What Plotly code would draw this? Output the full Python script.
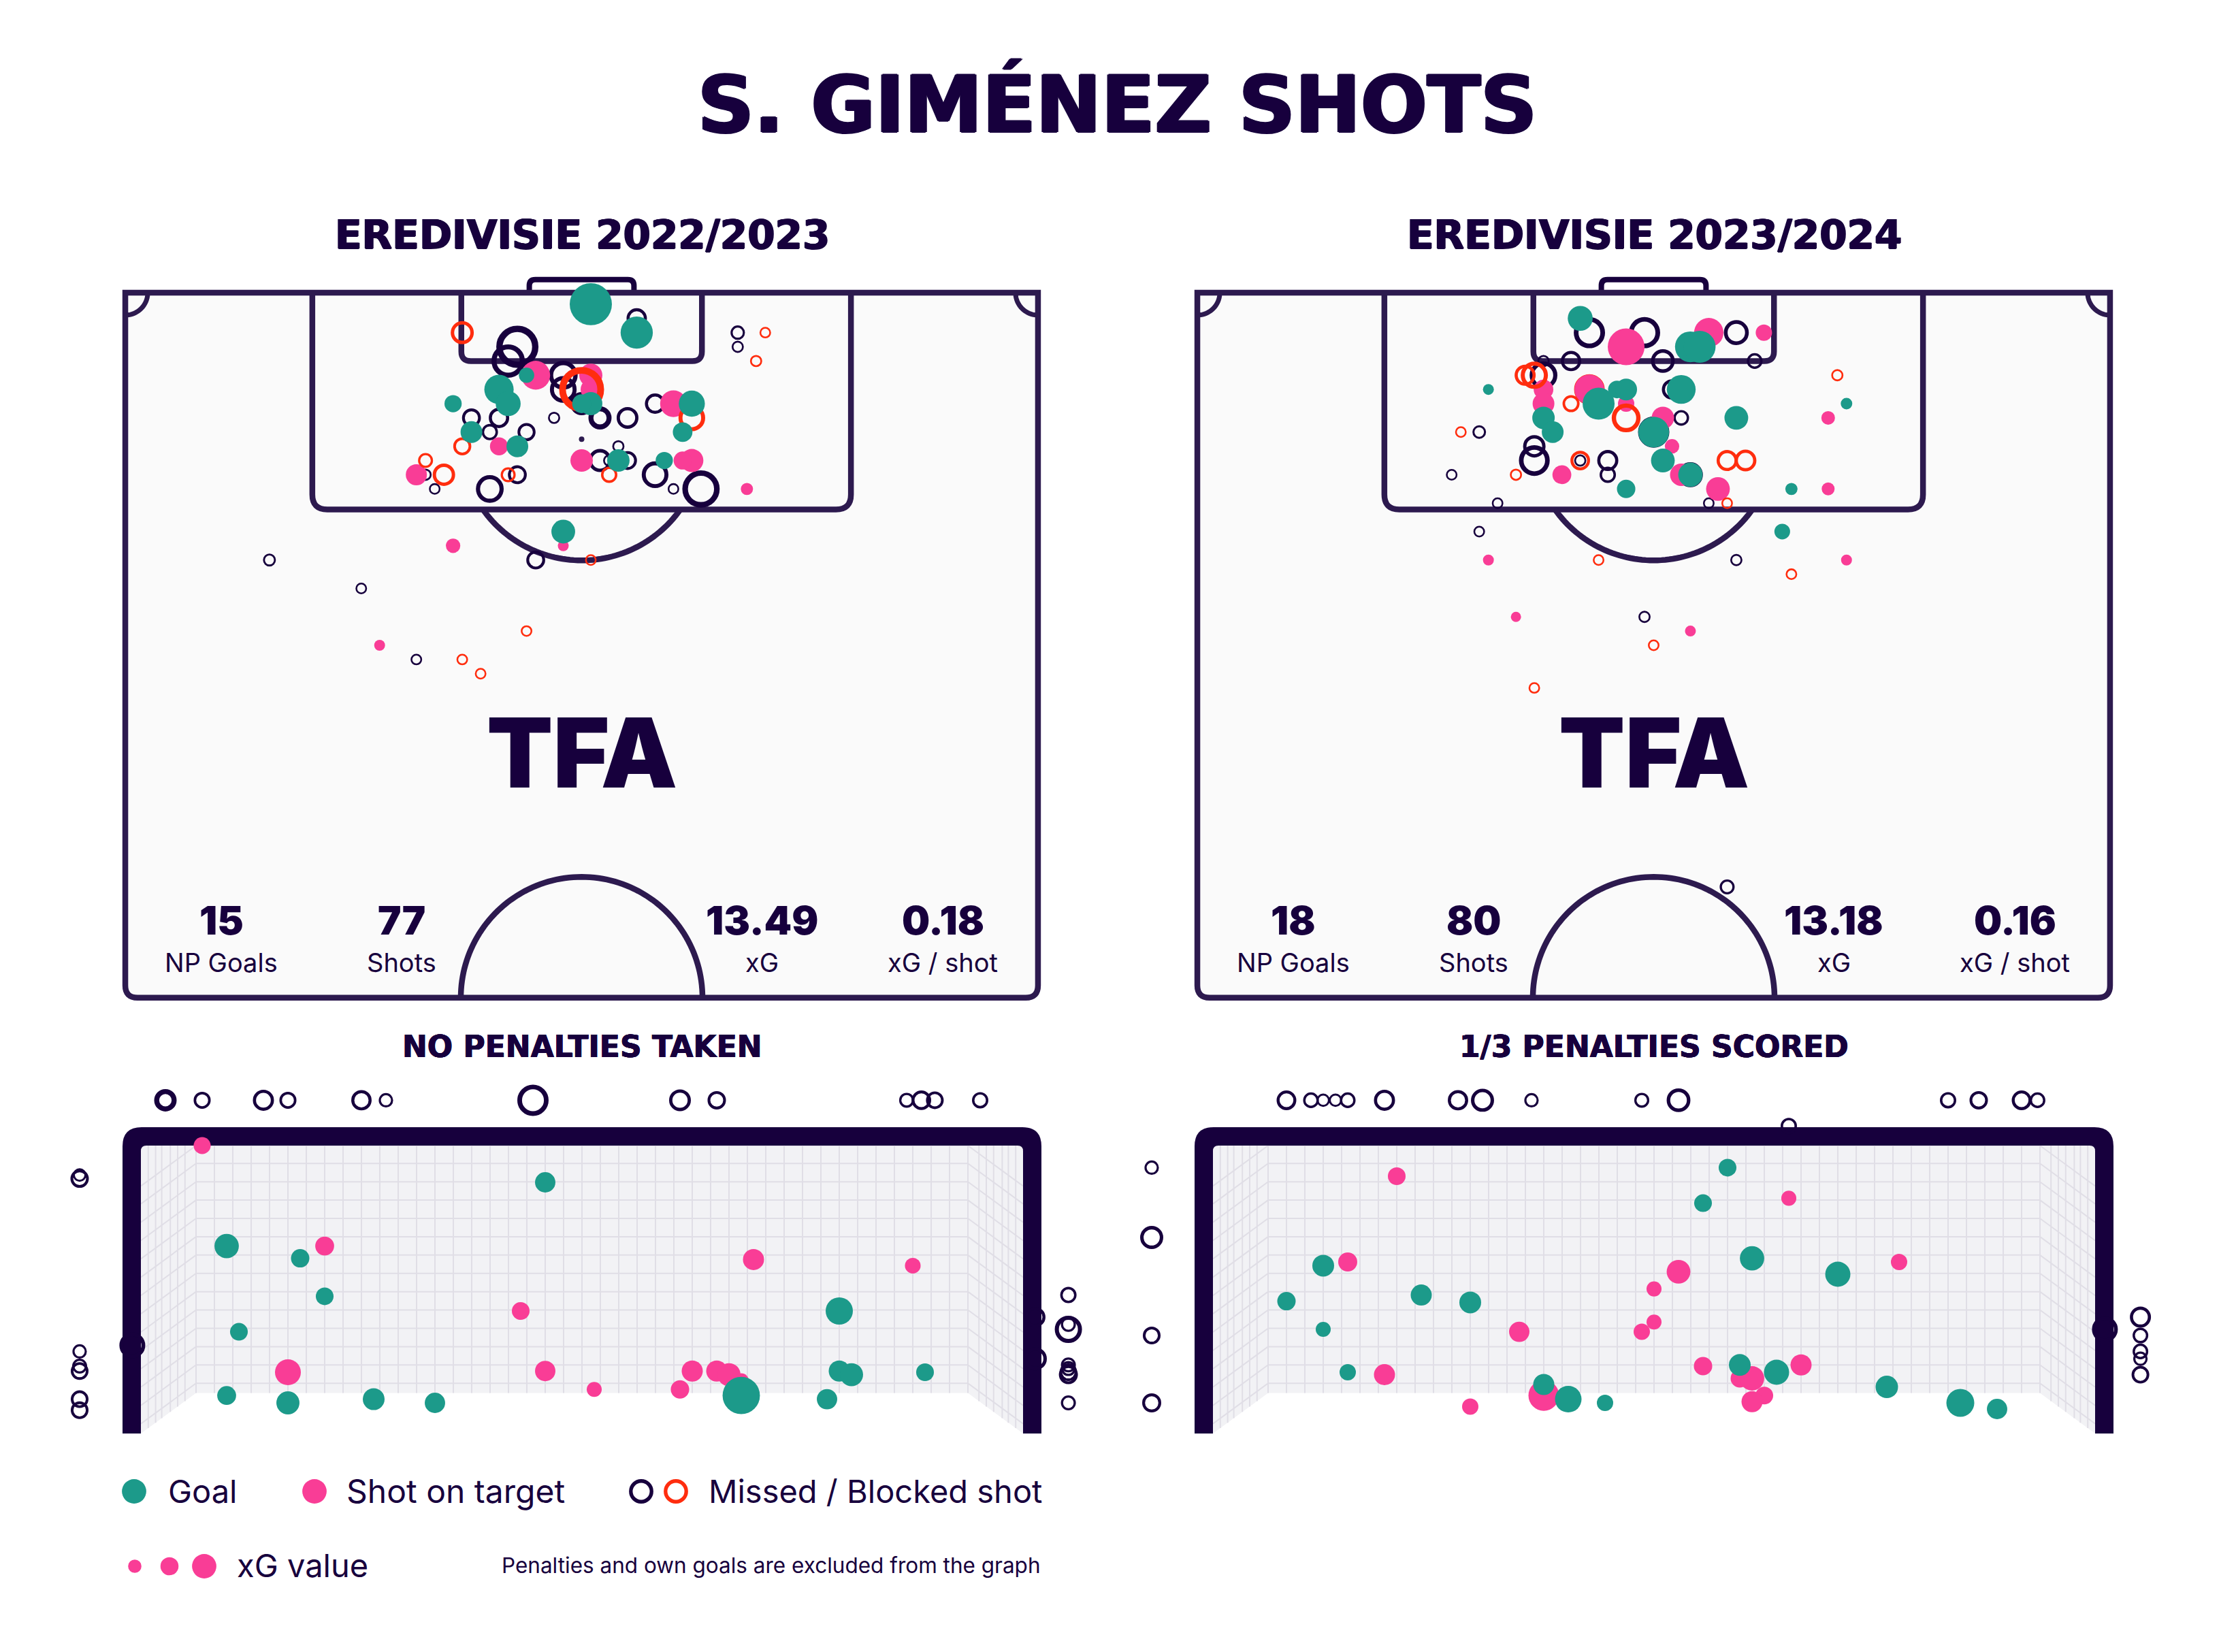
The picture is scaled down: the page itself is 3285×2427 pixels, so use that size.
import plotly.graph_objects as go

W, H = 3285, 2427
DARK = "#17003D"; LINE = "#2D1A4F"; GREEN = "#1C9A8A"; PINK = "#F93D96"; RED = "#FF2D0E"
PITCH_BG = "#FAFAFA"; WALL = "#F2F2F5"; GRID = "#E0DEE6"
FONT = "Inter"; HEAD_FONT = "DejaVu Sans"

TITLE = "S. GIMÉNEZ SHOTS"
SEASONS = ["EREDIVISIE 2022/2023", "EREDIVISIE 2023/2024"]
PEN_NOTES = ["NO PENALTIES TAKEN", "1/3 PENALTIES SCORED"]
STAT_LABELS = ["NP Goals", "Shots", "xG", "xG / shot"]
STATS_A = ["15", "77", "13.49", "0.18"]
STATS_B = ["18", "80", "13.18", "0.16"]

# ---- season 1, shot locations (x: % of pitch width, y: % of length from goal line)
A_GOAL_X = [51,56,44,41,42,36,38,43,54,51,50,48,62,61,59]
A_GOAL_Y = [1,3,6,7,8,8,10,11,12,8,8,17,8,10,12]
A_GOAL_XG = [.60,.35,.08,.29,.21,.10,.16,.16,.17,.18,.12,.19,.23,.13,.10]
A_SOT_X = [45,51,51,41,50,32,36,48,60,62,61,68,28]
A_SOT_Y = [6,6,7,11,12,13,18,18,8,12,12,14,25]
A_SOT_XG = [.28,.18,.14,.11,.17,.15,.07,.04,.24,.18,.11,.05,.04]
A_MISS_X = [56,43,42,48,48,50,52,52,55,47,38,41,40,44,58,54,52,55,53,33,43,34,40,58,63,60,67,67,45,16,26,32]
A_MISS_Y = [2,4,5,6,7,8,9,9,9,9,9,9,10,10,8,11,12,12,12,13,13,14,14,13,14,14,3,4,19,19,21,26]
A_MISS_XG = [.14,.60,.375,.28,.24,.18,.18,.12,.16,.05,.12,.14,.09,.11,.14,.05,.18,.12,.05,.05,.12,.045,.26,.24,.47,.045,.07,.05,.12,.056,.045,.045]
A_BLOCK_X = [37,50,37,33,35,42,53,51,70,69,62,44,37,39]
A_BLOCK_Y = [3,7,11,12,13,13,13,19,3,5,9,24,26,27]
A_BLOCK_XG = [.18,.68,.11,.076,.17,.076,.09,.045,.045,.05,.24,.045,.045,.045]

# ---- season 2, shot locations
B_GOAL_X = [42,54,55,32,46,47,53,44,38,39,50,51,54,47,59,71,65,64]
B_GOAL_Y = [2,4,4,7,7,7,7,8,9,10,10,12,13,14,9,8,14,17]
B_GOAL_XG = [.21,.32,.345,.04,.106,.16,.28,.345,.17,.16,.32,.19,.20,.114,.19,.045,.05,.083]
B_SOT_X = [47,56,38,38,43,47,51,52,53,40,57,62,69,69,71,54,32,35]
B_SOT_Y = [4,3,7,8,7,8,9,11,13,13,14,3,9,14,19,24,19,23]
B_SOT_XG = [.456,.29,.13,.16,.30,.09,.17,.07,.17,.12,.19,.09,.0625,.056,.04,.04,.04,.035]
B_MISS_X = [43,49,38,41,51,38,52,53,31,37,37,42,45,45,28,33,56,31,59,61,59,49,50,54,58]
B_MISS_Y = [3,3,5,5,5,6,7,9,10,11,12,12,12,13,13,15,15,17,3,5,19,23,10,13,42]
B_MISS_XG = [.33,.33,.05,.14,.19,.26,.14,.083,.0625,.17,.32,.05,.15,.09,.045,.045,.045,.045,.21,.083,.05,.05,.33,.21,.076]
B_BLOCK_X = [36,37,41,47,29,42,35,44,70,58,60,58,65,50,37]
B_BLOCK_Y = [6,6,8,9,10,12,13,19,6,12,12,15,20,25,28]
B_BLOCK_XG = [.15,.25,.098,.28,.045,.13,.05,.045,.05,.15,.16,.045,.045,.045,.045]
B_BLOCK_UNDER_X = [43]
B_BLOCK_UNDER_Y = [7]
B_BLOCK_UNDER_XG = [.316]

# ---- season 1, goal mouth (metres from centre of goal, metres above ground)
AG_GOAL_X = [-2.9,-2.4,-1.7,-1.2,-2.8,-2.1,-2.3,-2.9,-0.3,1.3,2.1,2.1,2.2,2.0,2.8]
AG_GOAL_Y = [.31,.25,.28,.25,.83,1.12,1.43,1.53,2.05,.31,1.00,.51,.48,.28,.50]
AG_GOAL_XG = [.12,.18,.16,.14,.106,.106,.114,.20,.14,.47,.25,.15,.18,.14,.106]
AG_SOT_X = [-3.1,-2.1,-2.4,-0.5,-0.3,0.1,1.4,2.7,0.9,0.8,1.1,1.2,1.3]
AG_SOT_Y = [2.35,1.53,.50,1.00,.51,.36,1.42,1.37,.51,.36,.51,.48,.43]
AG_SOT_XG = [.098,.12,.226,.106,.14,.076,.15,.083,.15,.114,.15,.18,.076]
AG_MISS_X = [-3.4,-3.4,-3.1,-2.6,-2.4,-1.8,-1.6,-0.4,0.8,1.1,2.65,2.77,2.88,3.25,
             -4.1,-4.1,-4.1,-4.1,-4.1,-4.1,-4.1,-3.67,
             3.97,3.97,3.97,3.97,3.97,3.97,3.97,3.97,3.70,3.70]
AG_MISS_Y = [2.72,2.72,2.72,2.72,2.72,2.72,2.72,2.72,2.72,2.72,2.72,2.72,2.72,2.72,
             2.11,2.08,.67,.55,.51,.28,.19,.72,
             1.13,.89,.85,.56,.53,.50,.48,.25,.95,.61]
AG_MISS_XG = [.17,.106,.098,.15,.098,.14,.07,.33,.16,.114,.076,.13,.106,.09,
              .0625,.114,.07,.076,.106,.106,.106,.226,
              .09,.076,.25,.076,.076,.106,.122,.076,.14,.18]

# ---- season 2, goal mouth
BG_GOAL_X = [-3.0,-2.7,-2.7,-2.5,-1.9,-1.5,-0.9,-0.7,-0.4,0.6,0.4,0.8,1.5,0.7,1.0,1.9,2.5,2.8]
BG_GOAL_Y = [1.08,1.37,.85,.50,1.13,1.07,.40,.28,.25,2.17,1.88,1.43,1.30,.56,.50,.38,.25,.20]
BG_GOAL_XG = [.114,.16,.076,.09,.15,.16,.15,.238,.09,.106,.106,.20,.214,.16,.214,.17,.263,.14]
BG_SOT_X = [-2.1,-2.5,-2.2,-1.1,-1.5,-0.9,-0.1,0.0,0.0,0.2,1.1,2.0,0.4,0.7,0.8,0.9,0.8,1.2]
BG_SOT_Y = [2.10,1.40,.48,.83,.22,.31,.83,.91,1.18,1.32,1.92,1.40,.55,.45,.45,.31,.26,.56]
BG_SOT_XG = [.106,.122,.15,.14,.09,.316,.09,.076,.076,.19,.076,.09,.114,.114,.20,.106,.15,.15]
BG_MISS_X = [-3.0,-2.8,-2.7,-2.6,-2.5,-2.2,-1.6,-1.4,-1.0,-0.1,0.2,1.1,2.4,2.65,3.0,3.13,
             -4.1,-4.1,-4.1,-4.1,3.97,3.97,3.97,3.97,3.97,3.68]
BG_MISS_Y = [2.72,2.72,2.72,2.72,2.72,2.72,2.72,2.72,2.72,2.72,2.72,2.51,2.72,2.72,2.72,2.72,
             2.17,1.60,.80,.25,.95,.80,.67,.61,.48,.85]
BG_MISS_XG = [.131,.083,.06,.06,.083,.15,.14,.18,.07,.076,.19,.09,.09,.114,.131,.083,
              .07,.18,.106,.122,.15,.083,.083,.07,.106,.226]

LEG_XG = [.06, .11, .20]
SIDE_WALL_LINES = [3.54, 3.48, 3.43, 3.36, 3.30, 3.24]


def dia(v):
    return 80 * v ** .5


def fx(p):
    return p / W


def fy(p):
    return 1 - p / H


fig = go.Figure()
layout = dict(
    width=W, height=H, margin=dict(l=0, r=0, t=0, b=0, pad=0),
    paper_bgcolor="white", plot_bgcolor="rgba(0,0,0,0)", showlegend=False,
    hovermode=False, font=dict(family=FONT, color=DARK),
)
shapes = []
anns = []


def add_axes(n, px0, px1, py_top, py_bot, xr, yr):
    s = "" if n == 1 else str(n)
    layout["xaxis" + s] = dict(domain=[fx(px0), fx(px1)], range=xr, visible=False, fixedrange=True, anchor="y" + s)
    layout["yaxis" + s] = dict(domain=[fy(py_bot), fy(py_top)], range=yr, visible=False, fixedrange=True, anchor="x" + s)
    return "x" + s, "y" + s


def text(px, py, t, size, weight=400, anchor="center", family=FONT, thick=0):
    font = dict(family=family, size=size, weight=weight, color=DARK)
    if thick:
        font["shadow"] = (f"{thick}px 0 0 {DARK},-{thick}px 0 0 {DARK},"
                          f"0 {thick/2}px 0 {DARK},0 -{thick/2}px 0 {DARK}")
    anns.append(dict(xref="paper", yref="paper", x=fx(px), y=fy(py), text=t, showarrow=False,
                     xanchor=anchor, yanchor="middle", font=font))


def fills(x, y, xg, col, xa, ya):
    fig.add_trace(go.Scatter(x=x, y=y, mode="markers", xaxis=xa, yaxis=ya, cliponaxis=False,
                             marker=dict(size=[dia(v) for v in xg], color=col, opacity=1, line=dict(width=0))))


def rings(x, y, xg, col, xa, ya):
    fig.add_trace(go.Scatter(x=x, y=y, mode="markers", xaxis=xa, yaxis=ya, cliponaxis=False,
                             marker=dict(size=[dia(v) * .85 for v in xg], color="rgba(0,0,0,0)", opacity=1,
                                         line=dict(width=[dia(v) * .15 for v in xg], color=col))))


PXX, PXY = 13.49, 20.88


def rpath(pts, close, rpx, sx, sy):
    """Polyline through pts with rounded corners; rpx[i] is the corner radius in pixels."""
    out = []
    n = len(pts)
    for i, (x, y) in enumerate(pts):
        r = rpx[i]
        if r == 0 or ((i == 0 or i == n - 1) and not close):
            out.append(("M" if not out else "L") + f"{x},{y}")
            continue
        xp, yp = pts[(i - 1) % n]
        xn, yn = pts[(i + 1) % n]
        def step(a, b, c, d):
            dx, dy = (c - a) * sx, (d - b) * sy
            L = (dx * dx + dy * dy) ** .5
            return a + (c - a) * r / L, b + (d - b) * r / L
        a = step(x, y, xp, yp)
        b = step(x, y, xn, yn)
        out.append(("M" if not out else "L") + f"{a[0]},{a[1]}")
        out.append(f"Q{x},{y} {b[0]},{b[1]}")
    return " ".join(out) + (" Z" if close else "")


def arc(cx, cy, r, a0, a1, n=60):
    import math
    pts = []
    for i in range(n + 1):
        t = math.radians(a0 + (a1 - a0) * i / n)
        pts.append((cx + r * math.cos(t) / PXX, cy + r * math.sin(t) / PXY))
    return "M" + " L".join(f"{x},{y}" for x, y in pts)


def pitch(n, px0):
    xa, ya = add_axes(n, px0 - 2 * PXX, px0 + 102 * PXX, 426 - 2 * PXY, 426 + 50.5 * PXY, [-2, 102], [50.5, -2])
    def sh(path, w=8.5, col=LINE, fill=None):
        shapes.append(dict(type="path", path=path, xref=xa, yref=ya, layer="below",
                           line=dict(color=col, width=w), fillcolor=fill or "rgba(0,0,0,0)"))
    sh(rpath([(.3, .19), (99.7, .19), (99.7, 49.8), (.3, 49.8)], True, [0, 0, 18, 18], PXX, PXY), 0, LINE, PITCH_BG)
    sh(rpath([(44.3, .2), (44.3, -.73), (55.7, -.73), (55.7, .2)], False, [0, 9, 9, 0], PXX, PXY), 8, DARK)
    sh(rpath([(20.67, .19), (20.67, 15.44), (79.33, 15.44), (79.33, .19)], False, [0, 22, 22, 0], PXX, PXY))
    sh(rpath([(36.9, .19), (36.9, 5), (63.1, 5), (63.1, .19)], False, [0, 14, 14, 0], PXX, PXY))
    import math
    a = math.degrees(math.asin(103 / 178))
    sh(arc(50, 10.5, 178, a, 180 - a))
    sh(arc(50, 49.8, 177.5, 180, 360, 90), 8.5)
    sh(arc(.3, .19, 33, 0, 90, 20), 7)
    sh(arc(99.7, .19, 33, 90, 180, 20), 7)
    sh(rpath([(.3, .19), (99.7, .19), (99.7, 49.8), (.3, 49.8)], True, [0, 0, 18, 18], PXX, PXY))
    shapes.append(dict(type="circle", xref=xa, yref=ya, layer="below", x0=50 - 4 / PXX, x1=50 + 4 / PXX,
                       y0=10.5 - 4 / PXY, y1=10.5 + 4 / PXY, fillcolor=LINE, line=dict(width=0)))
    return xa, ya


def goal(n, cx):
    xa, ya = add_axes(n, cx - 810, cx + 810, 1584, 2124, [-4.5, 4.5], [-.1, 2.9])
    def sh(path, w=2, col=GRID, fill=None):
        shapes.append(dict(type="path", path=path, xref=xa, yref=ya, layer="below",
                           line=dict(color=col, width=w), fillcolor=fill or "rgba(0,0,0,0)"))
    back, inner, floor_y, top = 3.15, 3.60, .33, 2.35
    sh(f"M{-inner},{top} L{inner},{top} L{inner},0 L{back},{floor_y} L{-back},{floor_y} L{-inner},0 Z", 0, WALL, WALL)
    hs = [.41 + .1495 * i for i in range(13)] + [top]
    for h in hs:
        y = min(h, top)
        sh(f"M{-back},{y} L{back},{y}")
        for s in (-1, 1):
            sh(f"M{s*back},{y} L{s*inner},{y-floor_y}")
    for i in range(43):
        x = -back + .15 * i
        sh(f"M{x},{floor_y} L{x},{top}")
    for s in (-1, 1):
        for x in SIDE_WALL_LINES:
            sh(f"M{s*x},{floor_y*(inner-x)/(inner-back)} L{s*x},{top}")
    o, t, i_, it = 3.75, 2.5, 3.6, 2.35
    sx = sy = 180
    outer = rpath([(-o, 0), (-o, t), (o, t), (o, 0)], False, [0, 28, 28, 0], sx, sy)
    inn = rpath([(i_, 0), (i_, it), (-i_, it), (-i_, 0)], False, [0, 8, 8, 0], sx, sy).replace("M", "L", 1)
    sh(outer + " " + inn + " Z", 0, DARK, DARK)
    return xa, ya


panels = [
    (180, 1, 3, 855, 0, STATS_A,
     (A_GOAL_X, A_GOAL_Y, A_GOAL_XG), (A_SOT_X, A_SOT_Y, A_SOT_XG), (A_MISS_X, A_MISS_Y, A_MISS_XG),
     (A_BLOCK_X, A_BLOCK_Y, A_BLOCK_XG), None,
     (AG_GOAL_X, AG_GOAL_Y, AG_GOAL_XG), (AG_SOT_X, AG_SOT_Y, AG_SOT_XG), (AG_MISS_X, AG_MISS_Y, AG_MISS_XG)),
    (1755, 2, 4, 2430, 1, STATS_B,
     (B_GOAL_X, B_GOAL_Y, B_GOAL_XG), (B_SOT_X, B_SOT_Y, B_SOT_XG), (B_MISS_X, B_MISS_Y, B_MISS_XG),
     (B_BLOCK_X, B_BLOCK_Y, B_BLOCK_XG), (B_BLOCK_UNDER_X, B_BLOCK_UNDER_Y, B_BLOCK_UNDER_XG),
     (BG_GOAL_X, BG_GOAL_Y, BG_GOAL_XG), (BG_SOT_X, BG_SOT_Y, BG_SOT_XG), (BG_MISS_X, BG_MISS_Y, BG_MISS_XG)),
]

for px0, n1, n2, cx, idx, stats, gl, sot, miss, blk, under, ggl, gsot, gmiss in panels:
    xa, ya = pitch(n1, px0)
    if under:
        rings(*under, RED, xa, ya)
    rings(*miss, DARK, xa, ya)
    fills(*sot, PINK, xa, ya)
    rings(*blk, RED, xa, ya)
    fills(*gl, GREEN, xa, ya)
    xa, ya = goal(n2, cx)
    rings(*gmiss, DARK, xa, ya)
    fills(*gsot, PINK, xa, ya)
    fills(*ggl, GREEN, xa, ya)
    text(cx, 345, SEASONS[idx], 58, 700, family=HEAD_FONT, thick=1)
    text(cx, 1537, PEN_NOTES[idx], 44, 700, family=HEAD_FONT, thick=0.5)
    offs = [-530, -265, 264, 530]
    for o, v, l in zip(offs, stats, STAT_LABELS):
        text(cx + o, 1352, v, 58, 900)
        text(cx + o, 1414, l, 38, 400)
    text(cx, 1105, "TFA", 142, 900)

text(1641, 153, TITLE, 115, 700, family=HEAD_FONT, thick=2)

# legend, on an axis that spans the page
xa, ya = add_axes(5, 0, W, 0, H, [0, W], [H, 0])
LEG_GOAL_PX, LEG_SOT_PX, LEG_DARK_PX, LEG_RED_PX = [197], [462], [942], [993]
LEG_ROW1, LEG_ROW2 = [2191], [2301]
LEG_XG_PX = [198, 249, 300]
fills(LEG_GOAL_PX, LEG_ROW1, [.2], GREEN, xa, ya)
fills(LEG_SOT_PX, LEG_ROW1, [.2], PINK, xa, ya)
rings(LEG_DARK_PX, LEG_ROW1, [.2], DARK, xa, ya)
rings(LEG_RED_PX, LEG_ROW1, [.2], RED, xa, ya)
fills(LEG_XG_PX, LEG_ROW2 * 3, LEG_XG, PINK, xa, ya)
text(245, 2190, "Goal", 47, 400, "left")
text(507, 2190, "Shot on target", 48, 400, "left")
text(1039, 2190, "Missed / Blocked shot", 47, 400, "left")
text(346, 2299, "xG value", 47, 400, "left")
text(1531, 2299, "Penalties and own goals are excluded from the graph", 31.5, 400, "right")

layout["shapes"] = shapes
layout["annotations"] = anns
fig.update_layout(**layout)
fig.write_html("out.html", config=dict(displayModeBar=False),
               post_script="document.body.style.margin='0';document.documentElement.style.overflow='hidden';")
